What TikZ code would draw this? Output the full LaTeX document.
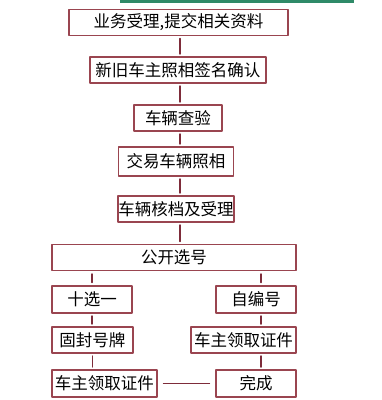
\documentclass[tikz,border=0pt]{standalone}
\usepackage{fontspec}
\newfontfamily\cjk{Noto Sans CJK SC}
\definecolor{boxred}{HTML}{9A4550}
\definecolor{linered}{HTML}{7E2C3A}
\definecolor{bargreen}{HTML}{2F8A68}

\begin{document}
\begin{tikzpicture}[x=1pt, y=-1pt, line cap=round, line join=round,
  stepbox/.style={draw=boxred, line width=1.1pt, rectangle, inner sep=0pt,
    minimum height=26pt, font=\cjk\fontsize{16.5}{16.5}\selectfont},
  link/.style={draw=linered, line width=1.5pt, shorten <=2.5pt, shorten >=2.5pt}]

\useasboundingbox (0,0) rectangle (382,400);

% Green bar at the top
\fill[bargreen] (120,0) rectangle (354,2.5);

% Main column
\node[stepbox, minimum width=219pt] (accept) at (178.5,22.5) {业务受理,提交相关资料};
\node[stepbox, minimum width=176pt] (sign) at (178,70) {新旧车主照相签名确认};
\node[stepbox, minimum width=88pt] (inspect) at (178,118) {车辆查验};
\node[stepbox, minimum width=115pt, minimum height=29pt] (photo) at (176,161.5) {交易车辆照相};
\node[stepbox, minimum width=116pt] (archive) at (176,209) {车辆核档及受理};
\node[stepbox, minimum width=244pt] (select) at (174,257.5) {公开选号};

% Left branch
\node[stepbox, minimum width=80pt, minimum height=27pt] (ten) at (92,299.5) {十选一};
\node[stepbox, minimum width=81pt] (seal) at (92.5,340) {固封号牌};
\node[stepbox, minimum width=105pt, minimum height=27pt] (certL) at (104.5,383.5) {车主领取证件};

% Right branch
\node[stepbox, minimum width=80pt, minimum height=27pt] (own) at (256,299.5) {自编号};
\node[stepbox, minimum width=105pt] (certR) at (243.5,340) {车主领取证件};
\node[stepbox, minimum width=80pt, minimum height=27pt] (done) at (256,383.5) {完成};

% Connectors in the main column
\coordinate (mid) at (180,0);
\draw[link] (accept.south -| mid) -- (sign.north -| mid);
\draw[link] (sign.south -| mid) -- (inspect.north -| mid);
\draw[link] (inspect.south -| mid) -- (photo.north -| mid);
\draw[link] (photo.south -| mid) -- (archive.north -| mid);
\draw[link] (archive.south -| mid) -- (select.north -| mid);

% Connectors in the branches
\coordinate (rcol) at (261,0);
\draw[link, shorten <=3pt, shorten >=3pt] (ten.north |- select.south) -- (ten.north);
\draw[link] (ten.south) -- (ten.south |- seal.north);
\draw[link] (seal.south) -- (seal.south |- certL.north);
\draw[linered, line width=1.6pt] ([yshift=3pt]own.north -| rcol) -- ([yshift=-3pt]select.south -| rcol);
\draw[linered, line width=1.6pt] ([yshift=-2.5pt]own.south -| rcol) -- ([yshift=2.5pt]certR.north -| rcol);
\draw[linered, line width=1.6pt] ([yshift=2.5pt]done.north -| rcol) -- ([yshift=-2.5pt]certR.south -| rcol);
\draw[link, shorten <=6pt, shorten >=6pt] (certL.east) -- (done.west);

\end{tikzpicture}
\end{document}
